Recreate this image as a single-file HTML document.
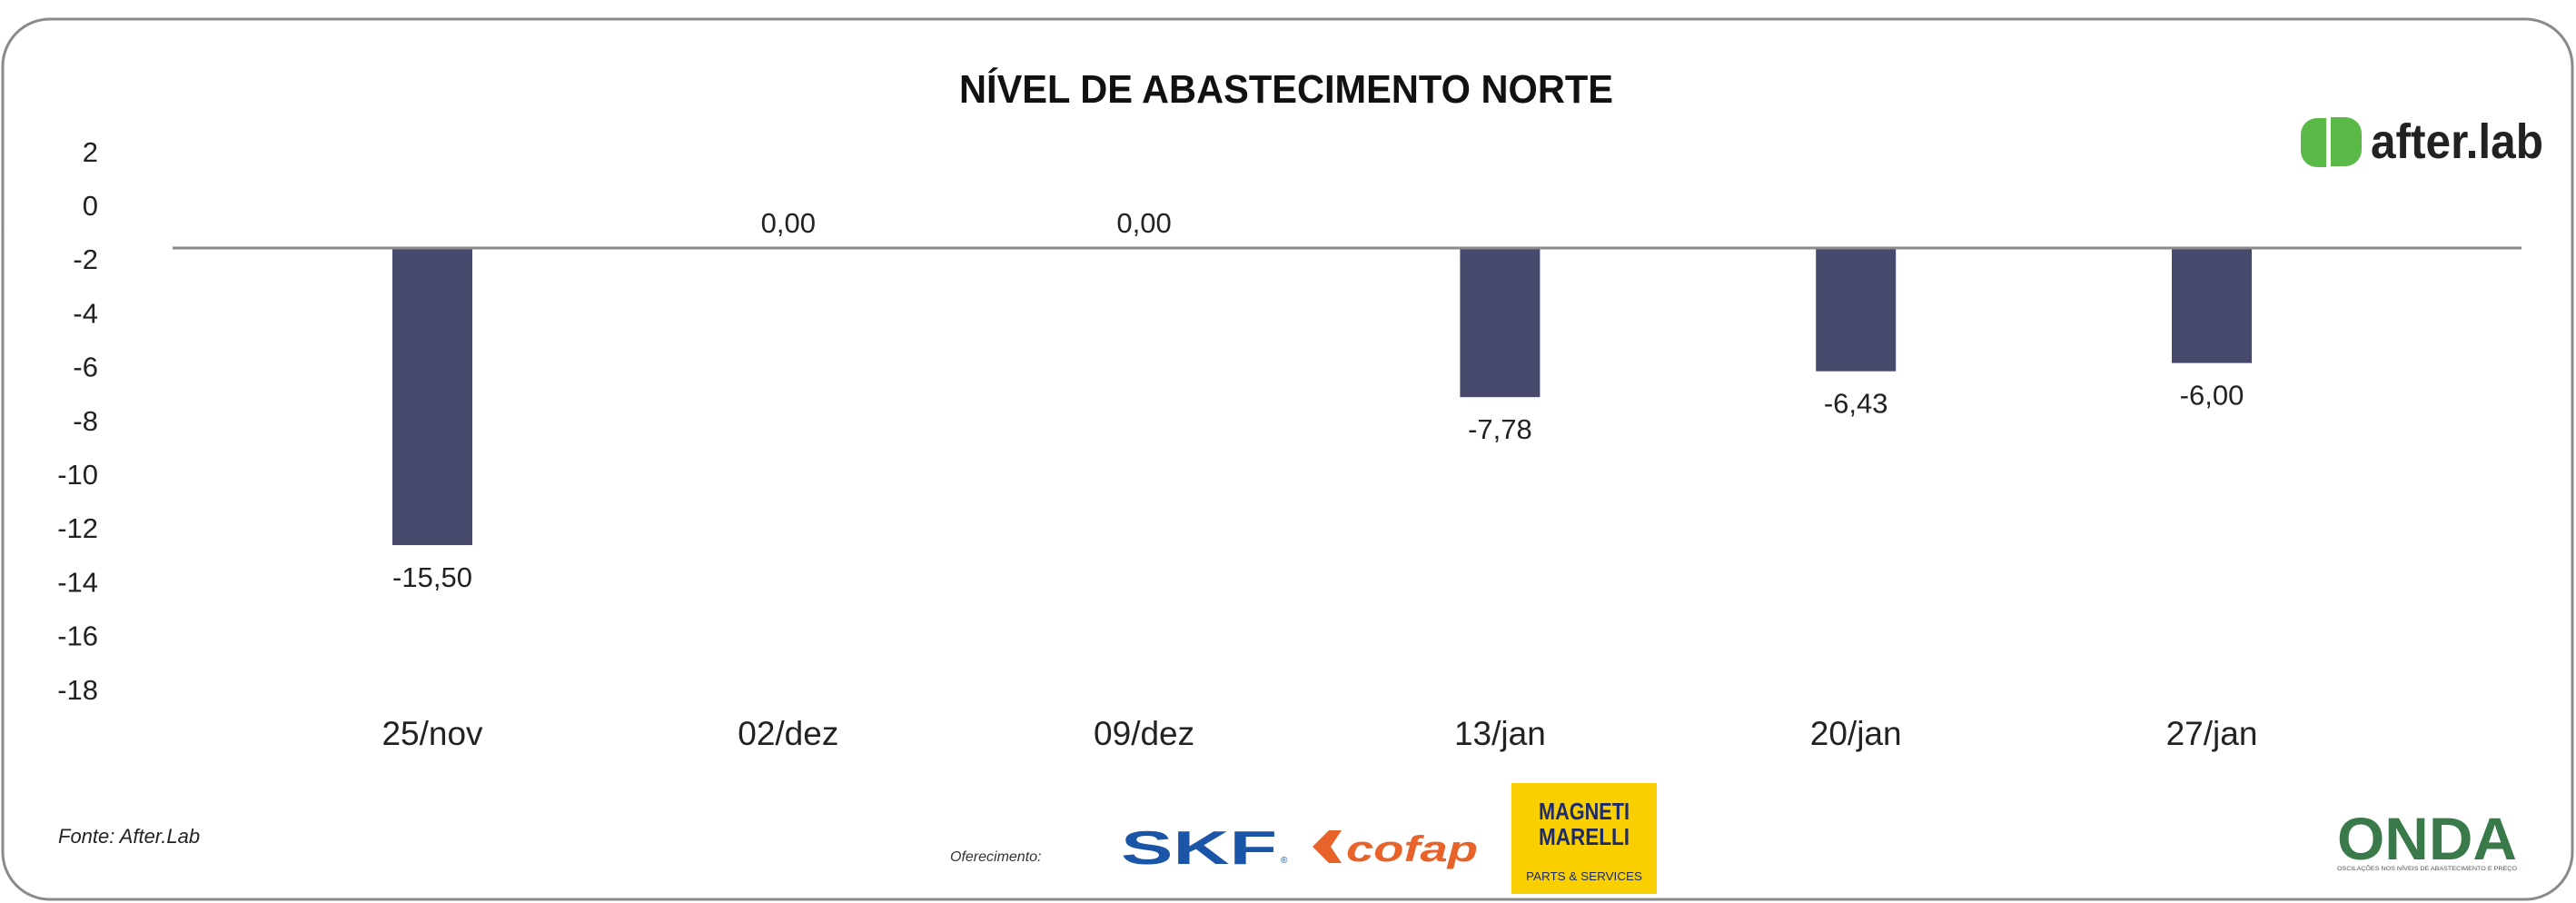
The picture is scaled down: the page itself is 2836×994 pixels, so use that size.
<!DOCTYPE html>
<html><head><meta charset="utf-8">
<style>
html,body{margin:0;padding:0;background:#fff;}
svg{display:block;font-family:"Liberation Sans",sans-serif;}
</style></head>
<body>
<svg id="chart" width="2836" height="994" viewBox="0 0 2836 994">
  <rect x="3" y="21" width="2829" height="969" rx="52" fill="#fff" stroke="#8a8a8a" stroke-width="3"/>
  <text x="1416" y="113" text-anchor="middle" font-size="44" font-weight="bold" fill="#111" textLength="720" lengthAdjust="spacingAndGlyphs">NÍVEL DE ABASTECIMENTO NORTE</text>
  <g>
    <path d="M2533 148 a18 18 0 0 1 18 -18 h10 v54 h-10 a18 18 0 0 1 -18 -18z" fill="#5bb947"/>
    <path d="M2566 129 h16 a18 18 0 0 1 18 18 v18 a18 18 0 0 1 -18 18 h-16z" fill="#5bb947"/>
    <text x="2610" y="174" font-size="54" font-weight="bold" fill="#222" textLength="190" lengthAdjust="spacingAndGlyphs">after.lab</text>
  </g>
  <g id="yaxis"></g>
  <g id="bars"></g>
  <g id="xaxis"></g>
  <line x1="190" x2="2776" y1="273" y2="273" stroke="#8a8a8a" stroke-width="3"/>
  <text x="64" y="928" font-size="22" font-style="italic" fill="#222">Fonte: After.Lab</text>
  <text x="1046" y="948" font-size="16" font-style="italic" fill="#333">Oferecimento:</text>
  <text x="1234" y="951" font-size="52" font-weight="bold" fill="#1a55a8" textLength="172" lengthAdjust="spacingAndGlyphs">SKF</text>
  <text x="1410" y="950" font-size="10" fill="#1a55a8">®</text>
  <g>
    <path d="M1445 932 l18 -18 h14 l-12 18 l12 18 h-14z" fill="#e8632a"/>
    <text x="1482" y="948" font-size="40" font-weight="bold" font-style="italic" fill="#e8632a" textLength="145" lengthAdjust="spacingAndGlyphs">cofap</text>
  </g>
  <g>
    <rect x="1664" y="862" width="160" height="122" fill="#f9cf00"/>
    <text x="1744" y="902" text-anchor="middle" font-size="26" font-weight="bold" fill="#1d2b6b" textLength="100" lengthAdjust="spacingAndGlyphs">MAGNETI</text>
    <text x="1744" y="930" text-anchor="middle" font-size="26" font-weight="bold" fill="#1d2b6b" textLength="100" lengthAdjust="spacingAndGlyphs">MARELLI</text>
    <text x="1744" y="969" text-anchor="middle" font-size="13" fill="#1d2b6b" textLength="128" lengthAdjust="spacingAndGlyphs">PARTS &amp; SERVICES</text>
  </g>
  <g>
    <text x="2672" y="946" text-anchor="middle" font-size="66" font-weight="bold" fill="#3a7a4a" textLength="198" lengthAdjust="spacingAndGlyphs">ONDA</text>
    <text x="2672" y="958" text-anchor="middle" font-size="6" fill="#555" textLength="198" lengthAdjust="spacingAndGlyphs">OSCILAÇÕES NOS NÍVEIS DE ABASTECIMENTO E PREÇO</text>
  </g>
</svg>
<script>
const categories = ["25/nov","02/dez","09/dez","13/jan","20/jan","27/jan"];
const values = [-15.50, 0.00, 0.00, -7.78, -6.43, -6.00];
const valueLabels = ["-15,50","0,00","0,00","-7,78","-6,43","-6,00"];
const yTicks = [2,0,-2,-4,-6,-8,-10,-12,-14,-16,-18];

const NS = "http://www.w3.org/2000/svg";
const baseY = 273;
function yBar(v){ return baseY - v*21.1; }
function yTick(v){ return 226 - v*29.6; }
const x0 = 476, x1 = 2435;
function xCenter(i){ return x0 + i*(x1-x0)/(categories.length-1); }
const barW = 88;

const yaxis = document.getElementById('yaxis');
yTicks.forEach(t=>{
  const el = document.createElementNS(NS,'text');
  el.setAttribute('x',108); el.setAttribute('y',yTick(t)+11);
  el.setAttribute('text-anchor','end'); el.setAttribute('font-size','31'); el.setAttribute('fill','#222');
  el.textContent = String(t);
  
  
  yaxis.appendChild(el);
});

const bars = document.getElementById('bars');
const xaxis = document.getElementById('xaxis');
categories.forEach((c,i)=>{
  const cx = xCenter(i);
  const v = values[i];
  const yb = yBar(v);
  if (v !== 0) {
    const r = document.createElementNS(NS,'rect');
    r.setAttribute('x',cx-barW/2); r.setAttribute('width',barW);
    r.setAttribute('y',Math.min(baseY,yb)); r.setAttribute('height',Math.abs(yb-baseY));
    r.setAttribute('fill','#474a6d');
    
    
    bars.appendChild(r);
  }
  const lb = document.createElementNS(NS,'text');
  lb.setAttribute('x',cx); lb.setAttribute('text-anchor','middle');
  lb.setAttribute('y', v<0 ? yb+46 : baseY-17);
  lb.setAttribute('font-size','31'); lb.setAttribute('fill','#222');
  lb.textContent = valueLabels[i];
  
  
  bars.appendChild(lb);
  const xl = document.createElementNS(NS,'text');
  xl.setAttribute('x',cx); xl.setAttribute('y',820);
  xl.setAttribute('text-anchor','middle'); xl.setAttribute('font-size','37'); xl.setAttribute('fill','#222');
  xl.textContent = c;
  
  
  xaxis.appendChild(xl);
});
</script>
</body></html>
